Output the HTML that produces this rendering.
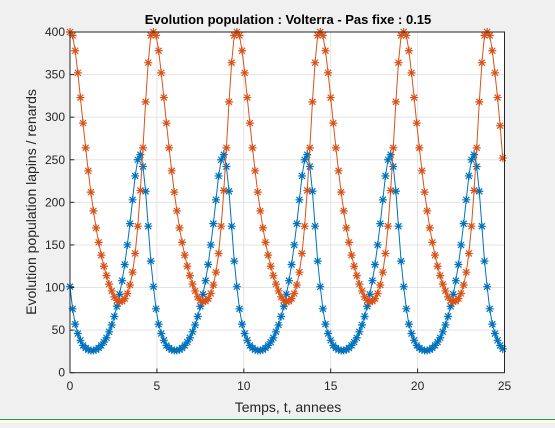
<!DOCTYPE html>
<html><head><meta charset="utf-8"><style>
body{margin:0;background:#f0f0f0;width:555px;height:423px;overflow:hidden;font-family:"Liberation Sans",sans-serif}
</style></head><body>
<svg id="chart" width="555" height="423" xmlns="http://www.w3.org/2000/svg">
<rect x="0" y="0" width="555" height="423" fill="#f0f0f0"/>
<rect x="0" y="420" width="555" height="3" fill="#fbfbe8"/>
<line x1="0" y1="419.5" x2="555" y2="419.5" stroke="#2a9a4a" stroke-width="1"/>
<rect x="70" y="32" width="434.5" height="340.7" fill="#fff"/>
<g id="grid"></g>
<g id="series"></g>
<rect x="70" y="32" width="434.5" height="340.7" fill="none" stroke="#262626" stroke-width="1"/>
<g id="ticks" font-size="12" fill="#262626"></g>
<text x="288" y="24" text-anchor="middle" font-size="13" font-weight="bold" fill="#000">Evolution population : Volterra - Pas fixe : 0.15</text>
<text x="288" y="412" text-anchor="middle" font-size="14" fill="#262626">Temps, t, annees</text>
<text transform="translate(36,202) rotate(-90)" text-anchor="middle" font-size="14" fill="#262626">Evolution population lapins / renards</text>
</svg>
<script>
const xTicks=[0,5,10,15,20,25];
const yTicks=[0,50,100,150,200,250,300,350,400];
const dt=0.15;
const renards=[400,396,378,352,323,293,264,237,212,190,170,153,138,125,114,104,96,89,85,83,84,87,93,103,118,140,172,214,264,318,364,396,
400,396,378,352,323,293,264,237,212,190,170,153,138,125,114,104,96,89,85,83,84,87,93,103,118,140,172,214,264,318,364,396,
400,396,378,352,323,293,264,237,212,190,170,153,138,125,114,104,96,89,85,83,84,87,93,103,118,140,172,214,264,318,364,396,
400,396,378,352,323,293,264,237,212,190,170,153,138,125,114,104,96,89,85,83,84,87,93,103,118,140,172,214,264,318,364,396,
400,396,378,352,323,293,264,237,212,190,170,153,138,125,114,104,96,89,85,83,84,87,93,103,118,140,172,214,264,318,364,396,
400,396,378,352,323,290,252];
const lapins=[101,75,57,46,38,32,29,27,26,26,27,29,32,36,41,48,56,66,78,92,108,127,150,175,203,231,250,256,242,213,172,131,
101,75,57,46,38,32,29,27,26,26,27,29,32,36,41,48,56,66,78,92,108,127,150,175,203,231,250,256,242,213,172,131,
101,75,57,46,38,32,29,27,26,26,27,29,32,36,41,48,56,66,78,92,108,127,150,175,203,231,250,256,242,213,172,131,
101,75,57,46,38,32,29,27,26,26,27,29,32,36,41,48,56,66,78,92,108,127,150,175,203,231,250,256,242,213,172,131,
101,75,57,46,38,32,29,27,26,26,27,29,32,36,41,48,56,66,78,92,108,127,150,175,203,231,250,256,242,213,172,131,
101,75,57,46,38,32,28];
const NS='http://www.w3.org/2000/svg';
const X=t=>70+t*(434.5/25);
const Y=v=>372.7-v*(340.7/400);
const grid=document.getElementById('grid'),ticks=document.getElementById('ticks'),ser=document.getElementById('series');
function mk(tag,attrs,parent){const e=document.createElementNS(NS,tag);for(const k in attrs)e.setAttribute(k,attrs[k]);parent.appendChild(e);return e;}
xTicks.forEach(t=>{
  const g=mk('line',{x1:X(t),x2:X(t),y1:32,y2:372.7,stroke:'#e3e3e3'},grid);
  
  
  mk('line',{x1:X(t),x2:X(t),y1:372.7,y2:368.5,stroke:'#262626'},ticks);
  const l=mk('text',{x:X(t),y:390,'text-anchor':'middle'},ticks);
  l.textContent=t;
  
  
});
yTicks.forEach(v=>{
  const g=mk('line',{x1:70,x2:504.5,y1:Y(v),y2:Y(v),stroke:'#e3e3e3'},grid);
  
  
  mk('line',{x1:70,x2:74.3,y1:Y(v),y2:Y(v),stroke:'#262626'},ticks);
  const l=mk('text',{x:65,y:Y(v)+4,'text-anchor':'end'},ticks);
  l.textContent=v;
  
  
});
function series(vals,color,name){
  const pts=vals.map((v,i)=>[X(i*dt),Y(v)]);
  const pl=mk('polyline',{points:pts.map(p=>p.join(',')).join(' '),fill:'none',stroke:color,'stroke-width':1},ser);
  
  
  let d='';const r=4,q=3;
  pts.forEach(([x,y])=>{d+=`M${x-r},${y}H${x+r}M${x},${y-r}V${y+r}M${x-q},${y-q}L${x+q},${y+q}M${x-q},${y+q}L${x+q},${y-q}`;});
  const m=mk('path',{d:d,stroke:color,'stroke-width':1.2,fill:'none'},ser);
  
  
}
series(lapins,'#0072BD','lapins');
series(renards,'#D95319','renards');
</script>
</body></html>
